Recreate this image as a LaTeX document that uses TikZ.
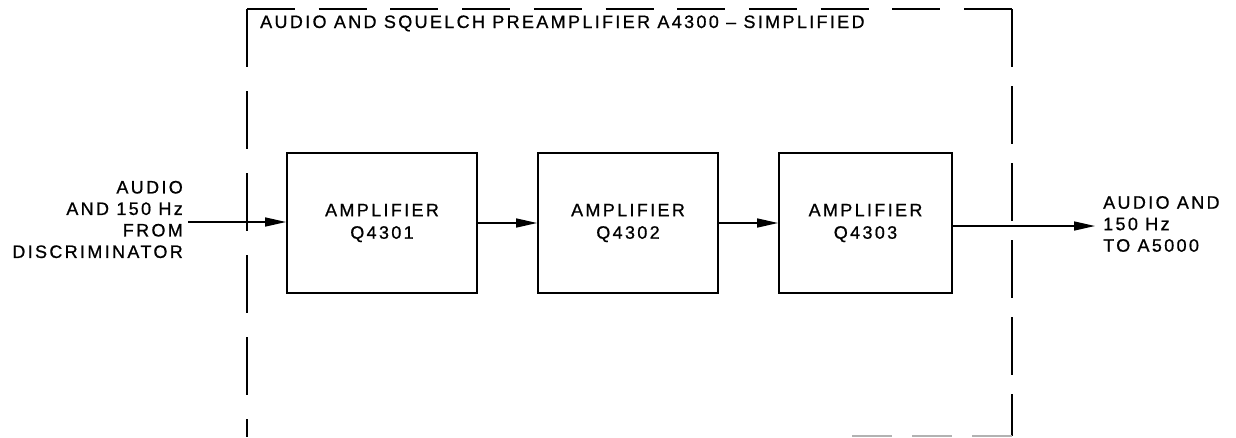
\documentclass[tikz,border=0pt]{standalone}
\usepackage{fontspec}
\setmainfont{Liberation Sans}[LetterSpace=13,FakeBold=0.8]
\usetikzlibrary{arrows.meta}
\begin{document}
\begin{tikzpicture}[x=1pt,y=-1pt,
  blk/.style={draw, line width=1.8pt, inner sep=0pt, align=center, font=\fontsize{18}{22.5}\selectfont},
  lbl/.style={inner sep=0pt, font=\fontsize{18}{21.5}\selectfont},
  conn/.style={line width=1.5pt, -{Triangle[length=21pt,width=9pt]}},
  frame/.style={line width=1.8pt}]
\useasboundingbox (0,0) rectangle (1236,437);
% frame corners
\coordinate (tl) at (247,9);
\coordinate (tr) at (1012,9);
\coordinate (bl) at (247,437);
\coordinate (br) at (1012,436);
\coordinate (bm) at (850,436);
\draw[frame, dash pattern=on 58pt off 24pt] (tl) -- (bl);
\draw[frame, dash pattern=on 48pt off 23.7pt] (tl) -- (tr);
\draw[frame, dash pattern=on 58pt off 19pt] (tr) -- (br);
\draw[line width=1.2pt, gray!60, dash pattern=on 40pt off 20pt] (br) -- (bm);
% title
\node[lbl, anchor=base west] (title) at (260,28) {AUDIO AND SQUELCH PREAMPLIFIER A4300 – SIMPLIFIED};
% blocks
\node[blk, minimum width=190pt, minimum height=140pt] (b1) at (382,223) {AMPLIFIER\\Q4301};
\node[blk, minimum width=180pt, minimum height=140pt] (b2) at (628,223) {AMPLIFIER\\Q4302};
\node[blk, minimum width=173pt, minimum height=140pt] (b3) at (865.5,223) {AMPLIFIER\\Q4303};
% labels
\node[lbl, align=right, anchor=east] (src) at (183,219.5) {AUDIO\\AND 150 Hz\\FROM\\DISCRIMINATOR};
\node[lbl, align=left, anchor=west] (dst) at (1103,224) {AUDIO AND\\150 Hz\\TO A5000};
% connectors
\coordinate (in) at (188,222);
\coordinate (out) at (1095,226);
\draw[conn] (in) -- (in -| b1.west);
\draw[conn] (b1.east) -- (b2.west);
\draw[conn] (b2.east) -- (b3.west);
\draw[conn] (out -| b3.east) -- (out);
\end{tikzpicture}
\end{document}
